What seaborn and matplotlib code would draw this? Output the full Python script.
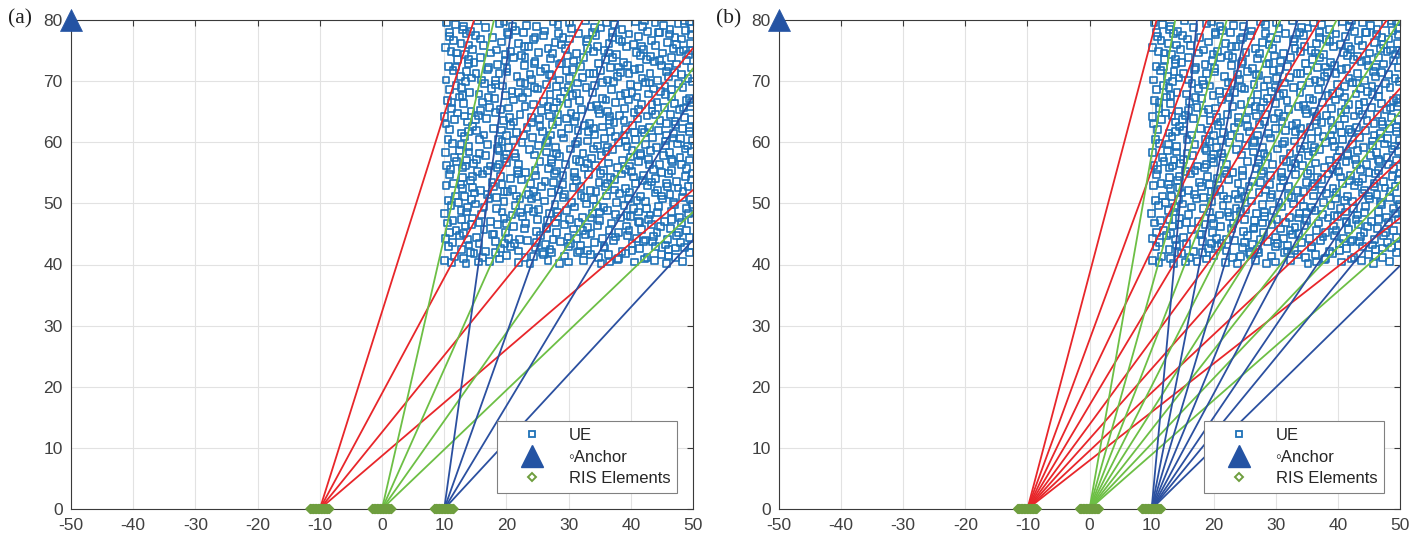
import pandas as pd
import matplotlib.pyplot as plt
from matplotlib.lines import Line2D
import seaborn as sns

# UE drop (identical in both panels)
ue_pts = [
    (10.4,79.6),(11.8,79.2),(15.3,79.9),(18.9,79.4),(19.6,79.8),(23.2,79.1),(27.5,79.7),(28.3,79.3),(32.7,79.9),(36.1,79.5),(37.4,79.2),(40.8,79.8),(43.9,79.6),(45.2,79.1),(47.6,79.4),(49.5,79.7),
    (12.9,78.5),(14.2,78.1),(16.7,78.8),(21.4,78.3),(24.8,78.9),(26.1,78.2),(30.5,78.6),(33.8,78.0),(35.2,78.7),(38.6,78.4),(41.9,78.9),(42.7,78.1),(46.3,78.5),(48.8,78.3),
    (10.9,77.3),(13.5,77.8),(17.8,77.1),(20.3,77.6),(22.7,77.9),(25.9,77.4),(29.1,77.2),(31.6,77.8),(34.4,77.5),(37.0,77.1),(39.7,77.7),(41.2,77.3),(44.6,77.9),(47.1,77.2),(49.8,77.6),
    (11.5,76.7),(12.7,76.2),(15.8,76.9),(19.2,76.4),(21.9,76.1),(24.3,76.8),(27.8,76.3),(30.2,76.9),(32.9,76.5),(36.5,76.2),(38.1,76.8),(40.4,76.0),(43.3,76.6),(45.9,76.3),(48.2,76.9),(49.6,76.1),
    (10.2,75.5),(14.6,75.2),(16.3,75.8),(18.4,75.1),(23.6,75.7),(26.7,75.3),(28.9,75.9),(33.1,75.4),(35.7,75.0),(39.3,75.6),(42.1,75.2),(44.0,75.8),(46.8,75.4),(48.5,75.1),
    (11.1,74.8),(13.2,74.3),(17.5,74.6),(20.6,74.9),(22.4,74.2),(25.2,74.7),(29.8,74.1),(31.3,74.5),(34.0,74.9),(37.7,74.3),(40.9,74.7),(41.6,74.2),(45.1,74.6),(47.9,74.9),(49.3,74.4),
    (12.1,73.6),(14.8,73.1),(15.9,73.9),(19.8,73.4),(21.1,73.8),(24.6,73.2),(27.1,73.7),(30.8,73.3),(32.4,73.9),(35.9,73.5),(38.8,73.0),(42.5,73.6),(43.8,73.2),(46.5,73.8),(49.0,73.4),
    (10.7,72.4),(13.9,72.9),(17.1,72.2),(18.6,72.7),(22.9,72.5),(26.3,72.1),(28.5,72.8),(31.9,72.4),(34.8,72.9),(36.7,72.2),(39.5,72.6),(41.4,72.0),(44.9,72.5),(47.4,72.8),(49.7,72.2),
    (11.4,71.7),(15.1,71.3),(16.9,71.9),(20.1,71.5),(23.8,71.1),(25.5,71.6),(29.6,71.8),(33.4,71.2),(35.1,71.7),(38.3,71.4),(40.6,71.9),(43.1,71.3),(45.7,71.6),(48.1,71.1),
    (10.3,70.2),(12.6,70.8),(14.4,70.5),(18.2,70.1),(21.7,70.7),(24.1,70.3),(27.3,70.9),(30.1,70.4),(32.2,70.6),(36.3,70.2),(37.8,70.8),(41.8,70.5),(44.3,70.1),(46.1,70.7),(49.2,70.4),
    (11.9,69.3),(13.4,69.9),(16.5,69.6),(19.4,69.2),(22.3,69.8),(26.5,69.5),(28.1,69.1),(31.4,69.7),(34.2,69.3),(37.2,69.9),(39.9,69.4),(42.3,69.8),(45.5,69.2),(47.7,69.6),(49.9,69.9),
    (10.8,68.6),(14.1,68.2),(17.6,68.8),(20.9,68.4),(23.4,68.1),(25.0,68.7),(29.3,68.3),(32.8,68.9),(33.9,68.2),(36.9,68.6),(40.2,68.1),(43.6,68.7),(44.8,68.3),(48.4,68.9),
    (12.4,67.4),(15.6,67.9),(18.1,67.1),(19.9,67.6),(22.6,67.3),(27.0,67.8),(28.7,67.2),(30.6,67.6),(35.4,67.1),(38.4,67.7),(41.0,67.4),(42.9,67.9),(46.6,67.5),(49.4,67.2),
    (10.5,66.8),(13.1,66.3),(16.1,66.6),(21.2,66.9),(24.4,66.2),(26.0,66.7),(29.9,66.4),(31.8,66.8),(34.5,66.1),(37.5,66.5),(39.6,66.9),(41.7,66.2),(44.2,66.6),(47.0,66.3),(48.9,66.8),
    (11.2,65.5),(14.3,65.1),(17.3,65.7),(19.1,65.3),(23.0,65.9),(25.6,65.2),(27.6,65.6),(32.1,65.4),(33.6,65.8),(36.2,65.0),(39.0,65.5),(43.4,65.1),(45.4,65.7),(47.8,65.3),(49.6,65.9),
    (10.1,64.2),(12.2,64.8),(15.5,64.4),(18.3,64.9),(20.5,64.1),(22.2,64.6),(26.9,64.3),(30.4,64.8),(31.2,64.2),(35.0,64.7),(38.2,64.4),(40.5,64.9),(42.6,64.3),(46.4,64.6),(48.6,64.1),
    (11.6,63.7),(13.8,63.3),(16.8,63.9),(19.5,63.5),(24.0,63.2),(25.3,63.8),(28.2,63.4),(29.7,63.9),(33.3,63.1),(36.6,63.6),(37.3,63.2),(41.1,63.8),(44.7,63.5),(45.8,63.1),(49.8,63.7),
    (10.9,62.1),(14.5,62.6),(17.9,62.3),(20.7,62.8),(23.3,62.4),(27.4,62.9),(30.0,62.2),(32.6,62.7),(35.5,62.5),(39.1,62.1),(40.3,62.8),(43.0,62.4),(47.2,62.9),(48.3,62.2),
    (12.8,61.5),(15.2,61.9),(16.4,61.2),(21.6,61.6),(22.8,61.1),(25.8,61.7),(28.8,61.4),(31.5,61.9),(34.1,61.3),(36.8,61.8),(38.9,61.2),(42.2,61.6),(44.4,61.9),(46.9,61.4),(49.4,61.7),
    (10.6,60.4),(13.3,60.9),(18.7,60.5),(19.3,60.1),(24.2,60.8),(26.6,60.3),(29.2,60.7),(33.0,60.2),(35.8,60.6),(37.6,60.9),(40.7,60.4),(43.5,60.8),(45.6,60.2),(48.0,60.6),(49.9,60.3),
    (11.3,59.8),(14.0,59.3),(17.0,59.6),(20.4,59.2),(22.5,59.9),(25.1,59.5),(27.9,59.1),(31.1,59.7),(34.7,59.4),(38.0,59.9),(39.4,59.3),(42.4,59.6),(44.1,59.1),(47.5,59.7),(49.1,59.4),
    (10.2,58.3),(12.5,58.7),(15.7,58.1),(18.8,58.6),(21.3,58.2),(23.7,58.8),(26.4,58.4),(30.3,58.9),(32.3,58.1),(36.0,58.5),(37.1,58.8),(41.5,58.2),(43.2,58.7),(46.2,58.3),(48.7,58.9),
    (11.7,57.5),(13.6,57.1),(16.6,57.8),(19.7,57.4),(24.5,57.9),(27.2,57.2),(28.6,57.7),(33.7,57.3),(35.3,57.8),(38.7,57.1),(40.0,57.6),(42.8,57.2),(45.3,57.8),(47.9,57.5),(49.5,57.1),
    (10.4,56.2),(12.0,56.9),(14.7,56.5),(17.4,56.1),(20.0,56.7),(22.0,56.3),(25.4,56.8),(29.5,56.4),(31.7,56.9),(34.3,56.2),(36.4,56.6),(39.8,56.1),(41.3,56.8),(44.6,56.4),(46.7,56.9),(48.1,56.3),
    (11.0,55.6),(15.4,55.2),(18.5,55.9),(21.8,55.4),(23.1,55.1),(26.8,55.7),(28.0,55.3),(32.5,55.8),(35.6,55.4),(37.9,55.9),(40.1,55.2),(43.7,55.6),(45.0,55.1),(49.0,55.7),
    (10.8,54.7),(12.9,54.2),(16.2,54.8),(19.0,54.4),(20.6,54.1),(24.7,54.6),(27.7,54.9),(30.9,54.3),(33.2,54.7),(36.7,54.2),(38.5,54.8),(42.0,54.5),(44.0,54.1),(46.0,54.9),(48.8,54.4),
    (11.5,53.3),(14.2,53.8),(17.7,53.4),(22.4,53.9),(23.9,53.2),(26.2,53.6),(29.0,53.1),(31.3,53.7),(34.9,53.4),(37.4,53.9),(40.8,53.3),(41.9,53.8),(45.8,53.2),(47.3,53.6),(49.7,53.9),
    (10.3,52.9),(13.0,52.4),(15.9,52.1),(18.0,52.7),(21.0,52.3),(25.7,52.8),(28.4,52.2),(30.7,52.6),(33.5,52.1),(35.9,52.7),(39.2,52.4),(42.7,52.9),(44.3,52.2),(47.6,52.5),(49.2,52.8),
    (11.8,51.2),(14.9,51.7),(16.9,51.4),(20.2,51.9),(23.5,51.5),(24.9,51.1),(27.3,51.8),(32.0,51.3),(34.4,51.9),(36.1,51.2),(38.2,51.6),(41.6,51.1),(43.9,51.7),(46.3,51.4),(48.4,51.9),
    (10.6,50.5),(12.3,50.1),(17.2,50.8),(19.6,50.3),(22.2,50.7),(26.1,50.4),(29.1,50.9),(30.5,50.2),(34.0,50.6),(37.7,50.1),(39.6,50.8),(42.4,50.3),(45.1,50.7),(46.9,50.2),(49.6,50.6),
    (11.1,49.7),(13.7,49.3),(15.0,49.9),(18.4,49.1),(21.5,49.6),(23.6,49.2),(27.8,49.8),(31.0,49.4),(32.9,49.9),(35.7,49.3),(38.9,49.7),(40.4,49.1),(44.5,49.5),(47.0,49.8),(48.9,49.2),
    (10.0,48.4),(12.7,48.9),(16.0,48.2),(19.3,48.6),(20.9,48.1),(24.3,48.7),(26.9,48.3),(29.6,48.8),(33.8,48.4),(36.3,48.9),(37.5,48.2),(41.2,48.6),(43.1,48.1),(46.6,48.7),(49.3,48.3),
    (11.4,47.2),(14.5,47.6),(17.5,47.1),(22.6,47.8),(25.0,47.4),(28.2,47.9),(30.2,47.3),(32.2,47.7),(35.0,47.2),(38.4,47.6),(40.0,47.9),(42.9,47.4),(45.4,47.1),(47.8,47.7),(49.8,47.3),
    (10.5,46.8),(13.4,46.3),(15.6,46.9),(18.6,46.5),(21.1,46.2),(23.1,46.7),(26.5,46.1),(29.4,46.6),(31.6,46.9),(34.6,46.4),(36.9,46.8),(39.3,46.3),(43.3,46.6),(44.8,46.2),(48.2,46.9),
    (11.9,45.5),(13.1,45.1),(16.4,45.7),(19.8,45.3),(22.9,45.9),(24.8,45.4),(28.0,45.2),(30.8,45.8),(33.6,45.1),(36.5,45.6),(38.0,45.2),(41.7,45.7),(44.2,45.3),(46.4,45.9),(49.0,45.5),
    (10.2,44.2),(12.4,44.8),(15.2,44.4),(17.8,44.9),(20.4,44.3),(25.5,44.7),(27.5,44.1),(29.9,44.5),(32.7,44.9),(35.4,44.3),(39.5,44.8),(40.9,44.2),(43.6,44.6),(45.9,44.1),(47.4,44.7),(49.5,44.4),
    (11.3,43.6),(14.0,43.2),(18.2,43.8),(21.3,43.4),(23.4,43.9),(26.3,43.3),(28.7,43.7),(31.9,43.1),(34.1,43.6),(37.2,43.9),(40.2,43.4),(42.1,43.8),(45.6,43.2),(48.0,43.6),(49.7,43.1),
    (10.7,42.9),(12.8,42.4),(16.7,42.1),(19.1,42.6),(22.0,42.2),(24.6,42.8),(27.0,42.5),(30.0,42.9),(33.1,42.3),(35.8,42.7),(38.6,42.1),(41.4,42.6),(44.0,42.9),(46.1,42.4),(48.6,42.8),
    (11.6,41.3),(14.8,41.8),(16.1,41.2),(20.0,41.5),(23.0,41.1),(25.9,41.7),(29.3,41.4),(31.4,41.9),(34.8,41.2),(36.4,41.6),(39.1,41.8),(42.6,41.2),(44.9,41.6),(47.2,41.1),(49.4,41.9),
    (10.1,40.6),(13.5,40.2),(17.3,40.5),(18.9,40.9),(21.9,40.3),(26.7,40.7),(28.5,40.2),(32.4,40.6),(35.2,40.1),(37.9,40.8),(40.6,40.4),(43.8,40.7),(45.7,40.2),(48.3,40.5),
    # squares sitting in between the ones above
    (13.1,79.0),(21.0,78.9),(30.1,79.6),(34.2,78.8),(42.2,79.9),(48.6,79.9),
    (10.8,78.0),(20.2,77.9),(28.4,77.8),(37.1,77.9),(44.4,78.0),(49.7,78.6),
    (15.0,77.4),(24.6,77.1),(33.0,76.9),(38.6,76.5),(46.2,77.7),
    (14.0,75.9),(22.9,75.6),(29.5,75.4),(34.6,75.7),(41.7,75.6),(47.3,76.0),
    (12.0,74.6),(19.9,74.4),(27.4,74.5),(36.4,74.6),(43.2,74.0),(49.9,75.0),
    (13.9,73.5),(23.0,73.9),(28.9,72.9),(37.0,73.8),(44.6,73.4),
    (11.9,72.3),(20.1,72.1),(24.5,72.9),(30.6,71.9),(38.0,72.3),(46.0,72.3),
    (13.6,71.6),(18.8,71.3),(26.9,71.1),(34.0,71.2),(39.7,71.2),(47.0,71.4),
    (16.0,70.2),(23.0,69.6),(28.6,70.2),(35.4,69.8),(43.0,69.7),
    (12.8,69.0),(18.3,69.4),(24.5,69.0),(30.0,69.0),(41.1,69.1),(46.6,68.6),
    (13.0,67.7),(22.0,68.1),(31.3,68.0),(39.1,68.0),(45.6,67.8),
    (11.2,66.5),(17.1,67.3),(28.0,66.6),(36.0,66.9),(43.4,66.2),(49.8,66.5),
    (15.9,65.2),(20.3,65.6),(26.7,65.9),(34.8,65.4),(41.2,65.3),(48.5,65.6),
    (13.3,64.3),(24.0,64.0),(28.3,64.6),(36.6,64.2),(44.0,64.5),
    (15.0,63.7),(21.1,63.3),(31.0,63.4),(38.9,63.5),(47.1,63.4),
    (10.3,63.0),(19.2,62.0),(25.4,62.6),(34.0,62.2),(41.8,62.1),(49.5,62.4),
    (13.9,61.8),(20.0,61.1),(27.1,61.2),(33.2,61.8),(40.6,61.6),(45.8,61.2),
    (15.7,60.5),(21.2,60.3),(31.4,60.1),(39.2,60.2),(46.8,60.7),
    (12.7,59.6),(18.6,59.0),(26.4,59.9),(36.2,59.1),(45.6,59.5),
    (14.0,58.4),(20.0,58.0),(28.1,58.2),(34.0,58.9),(40.2,58.6),(49.8,58.5),
    (15.2,57.2),(21.5,57.6),(31.2,57.2),(41.5,57.8),(46.6,57.2),
    (13.4,56.1),(18.8,56.4),(27.2,56.6),(33.1,56.5),(43.0,56.3),
    (12.9,55.8),(17.0,55.4),(24.6,55.4),(30.9,55.0),(39.2,55.5),(46.5,55.4),
    (14.5,54.4),(22.0,54.8),(29.1,54.6),(35.1,54.9),(40.4,54.3),(49.9,54.9),
    (12.7,53.1),(19.3,53.1),(27.6,53.4),(36.2,53.2),(43.3,53.5),
    (14.5,52.6),(19.6,52.0),(24.4,52.0),(32.0,52.8),(37.4,52.2),(45.9,52.8),
    (13.2,51.1),(21.6,51.2),(29.4,51.5),(39.8,51.8),(44.9,51.2),
    (14.4,50.6),(18.4,50.9),(24.0,50.7),(32.5,50.9),(41.0,50.5),(48.3,50.9),
    (16.4,49.4),(25.2,49.0),(34.5,49.5),(42.5,49.1),(49.9,49.8),
    (13.6,48.6),(22.3,48.5),(28.2,48.5),(35.0,48.6),(39.4,48.0),(44.3,48.5),
    (12.8,47.3),(19.6,47.5),(26.6,47.2),(33.6,47.6),(41.3,47.1),(46.5,47.3),
    (14.4,46.6),(20.0,46.7),(27.9,46.8),(33.1,46.0),(41.4,46.9),
    (10.8,45.2),(18.0,45.0),(26.4,45.8),(32.3,45.6),(39.7,45.5),(47.7,45.2),
    (13.8,44.1),(22.1,44.1),(31.3,44.2),(37.6,44.5),(42.3,44.0),
    (15.6,43.4),(19.7,43.5),(24.9,43.6),(30.3,43.5),(35.7,43.0),(43.5,43.7),
    (14.2,42.0),(20.6,42.9),(25.8,42.0),(31.8,42.2),(40.2,42.3),(47.2,42.7),
    (13.1,41.0),(18.2,41.9),(24.3,41.3),(27.2,41.9),(33.5,41.6),(38.0,41.0),(46.1,41.4),
    (11.2,40.3),(15.5,40.4),(23.8,40.1),(30.0,40.4),(36.6,40.4),(42.2,40.9),
]
ue_x = [p[0] for p in ue_pts]
ue_y = [p[1] for p in ue_pts]

anchor_x = [-50]
anchor_y = [80]

ris_centers = {"red": -10, "green": 0, "blue": 10}
ris_x = [-11.5, -11.25, -11.0, -10.75, -10.5, -10.25, -10.0, -9.75, -9.5, -9.25, -9.0, -8.75, -8.5,
         -1.5, -1.25, -1.0, -0.75, -0.5, -0.25, 0.0, 0.25, 0.5, 0.75, 1.0, 1.25, 1.5,
         8.5, 8.75, 9.0, 9.25, 9.5, 9.75, 10.0, 10.25, 10.5, 10.75, 11.0, 11.25, 11.5]
ris_y = [0] * len(ris_x)

# beam end points (where each beam leaves the axes)
a_red_x = [14.8, 32.3, 50, 50]
a_red_y = [80, 80, 75.4, 52.2]
a_green_x = [18.0, 35.0, 50, 50]
a_green_y = [80, 80, 72.1, 48.6]
a_blue_x = [21.0, 38.0, 50, 50]
a_blue_y = [80, 80, 67.5, 44.0]

b_red_x = [10.8, 18.9, 27.7, 37.1, 47.9, 50, 50, 50]
b_red_y = [80, 80, 80, 80, 80, 68.8, 57.1, 47.6]
b_green_x = [13.8, 22.1, 30.7, 39.8, 50, 50, 50, 50]
b_green_y = [80, 80, 80, 80, 80, 65.0, 53.5, 44.5]
b_blue_x = [17.3, 25.4, 33.5, 42.5, 50, 50, 50, 50]
b_blue_y = [80, 80, 80, 80, 75.5, 60.0, 49.5, 39.8]

x_ticks = [-50, -40, -30, -20, -10, 0, 10, 20, 30, 40, 50]
y_ticks = [0, 10, 20, 30, 40, 50, 60, 70, 80]

ue_color = "#1F72B8"
anchor_color = "#2453A3"
ris_color = "#6E9E3E"
beam_colors = {"red": "#E8262A", "green": "#6DBF45", "blue": "#2B50A0"}


def beam_frame(ends):
    rows = []
    for group, (xs, ys) in ends.items():
        cx = ris_centers[group]
        for i, (ex, ey) in enumerate(zip(xs, ys)):
            bid = f"{group}{i}"
            rows.append({"x": cx, "y": 0, "beam": bid, "ris": group})
            rows.append({"x": ex, "y": ey, "beam": bid, "ris": group})
    return pd.DataFrame(rows)


def draw_panel(ax, ends):
    sns.scatterplot(x=ue_x, y=ue_y, marker="s", s=24, facecolors="none",
                    edgecolors=ue_color, linewidth=1.2, ax=ax, zorder=2)
    sns.lineplot(data=beam_frame(ends), x="x", y="y", units="beam", hue="ris",
                 palette=beam_colors, estimator=None, sort=False, legend=False,
                 linewidth=1.3, ax=ax, zorder=3)
    sns.scatterplot(x=ris_x, y=ris_y, marker="D", s=18, facecolors="none",
                    edgecolors=ris_color, linewidth=1.5, ax=ax, zorder=4)
    ax.collections[-1].set_clip_on(False)
    sns.scatterplot(x=anchor_x, y=anchor_y, marker="^", s=250, color=anchor_color,
                    edgecolor=anchor_color, linewidth=0.5, ax=ax, zorder=5)
    ax.collections[-1].set_clip_on(False)

    ax.set_xlim(-50, 50)
    ax.set_ylim(0, 80)
    ax.set_xticks(x_ticks)
    ax.set_yticks(y_ticks)
    ax.set_xlabel("")
    ax.set_ylabel("")
    ax.grid(True, color="#E2E2E2", linewidth=0.8)
    ax.set_axisbelow(True)
    for sp in ax.spines.values():
        sp.set_visible(True)
        sp.set_color("#3A3A3A")
        sp.set_linewidth(0.8)
    ax.tick_params(direction="in", length=4.5, width=0.8, top=True, right=True,
                   color="#3A3A3A", labelcolor="#404040", labelsize=12.5)
    ax.tick_params(axis="x", pad=6.5)
    ax.tick_params(axis="y", pad=6)

    handles = [
        Line2D([], [], ls="none", marker="s", ms=5, mfc="none", mec=ue_color, mew=1.3),
        Line2D([], [], ls="none", marker="^", ms=16, color=anchor_color),
        Line2D([], [], ls="none", marker="D", ms=4.2, mfc="none", mec=ris_color, mew=1.4),
    ]
    leg = ax.legend(handles, ["UE", "\u25e6Anchor", "RIS Elements"], loc="lower right",
                    bbox_to_anchor=(0.974, 0.033), borderaxespad=0, fontsize=12,
                    handlelength=3.4, handletextpad=0.5, labelspacing=0.4,
                    borderpad=0.4, fancybox=False, framealpha=1, edgecolor="#808080")
    leg.get_frame().set_linewidth(0.8)
    for t in leg.get_texts():
        t.set_color("#262626")


sns.set_style("white")
plt.rcParams["font.family"] = ["Liberation Sans", "DejaVu Sans"]
plt.rcParams["axes.unicode_minus"] = False

fig = plt.figure(figsize=(14.24, 5.41), dpi=100)
ax_a = fig.add_axes([71 / 1424, 32 / 541, 622 / 1424, 489 / 541])
ax_b = fig.add_axes([779 / 1424, 32 / 541, 621 / 1424, 489 / 541])

draw_panel(ax_a, {"red": (a_red_x, a_red_y), "green": (a_green_x, a_green_y),
                  "blue": (a_blue_x, a_blue_y)})
draw_panel(ax_b, {"red": (b_red_x, b_red_y), "green": (b_green_x, b_green_y),
                  "blue": (b_blue_x, b_blue_y)})

fig.text(8 / 1424, 1 - 19 / 541, "(a)", ha="left", va="center",
         family="Liberation Serif", fontsize=15.5, color="#202020")
fig.text(716 / 1424, 1 - 19 / 541, "(b)", ha="left", va="center",
         family="Liberation Serif", fontsize=15.5, color="#202020")

fig.savefig("out.png", dpi=100)
